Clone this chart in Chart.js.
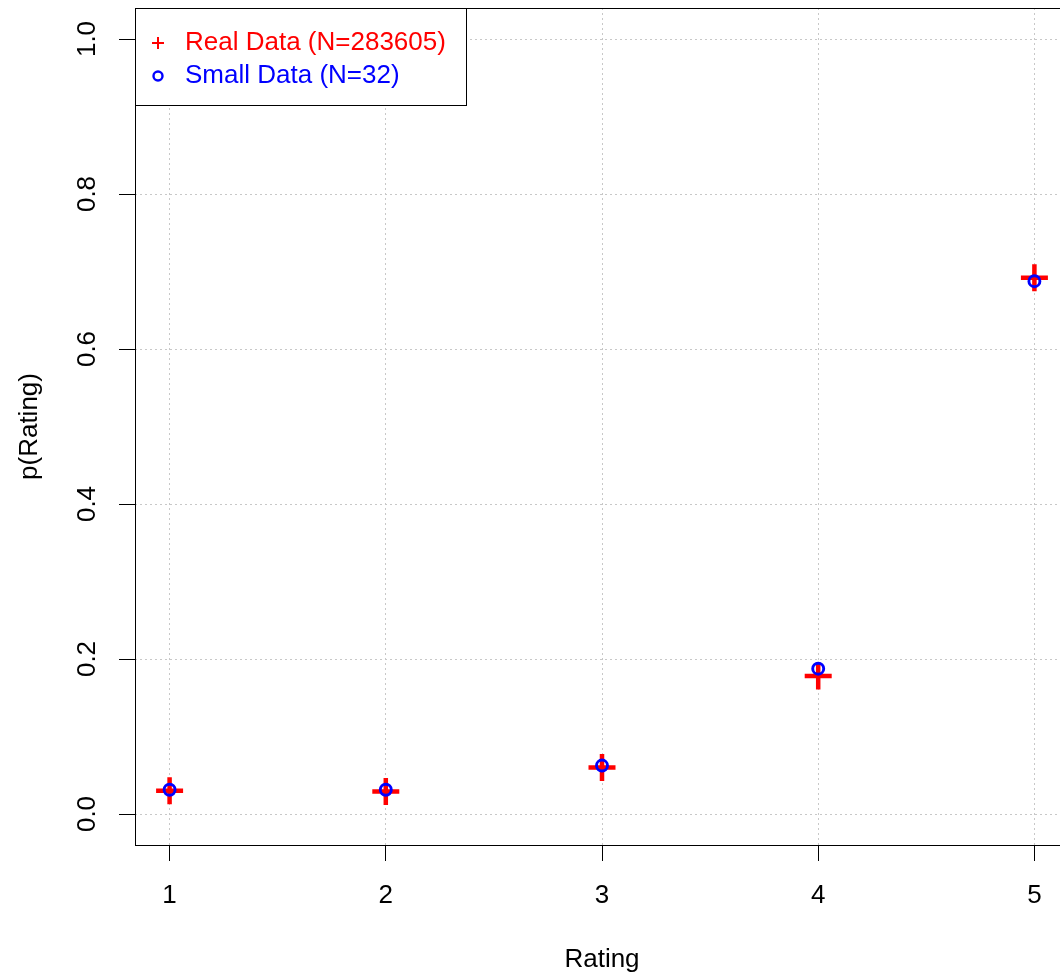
<!DOCTYPE html>
<html>
<head>
<meta charset="utf-8">
<title>p(Rating)</title>
<script src="https://cdn.jsdelivr.net/npm/chart.js@4"></script>
<style>
  html, body { margin: 0; padding: 0; background: #fff; overflow: hidden; }
  #wrap { width: 1069px; height: 975px; }
</style>
</head>
<body>
<div id="wrap"><canvas id="ratingChart" width="1069" height="975"></canvas></div>
<script>
// rating categories and the two estimated distributions
const ratings = [1, 2, 3, 4, 5];
const realP = [0.030, 0.029, 0.060, 0.178, 0.692];
const smallP = [0.03125, 0.03125, 0.0625, 0.1875, 0.6875];

const realLabel = 'Real Data (N=283605)';
const smallLabel = 'Small Data (N=32)';

const xTicks = [1, 2, 3, 4, 5];
const xTickLabels = ['1', '2', '3', '4', '5'];
const yTicks = [0, 0.2, 0.4, 0.6, 0.8, 1.0];
const yTickLabels = ['0.0', '0.2', '0.4', '0.6', '0.8', '1.0'];

const FONT = 'Liberation Sans, Arial, sans-serif';
const RED = '#FF0000';
const BLUE = '#0000FF';

function toPoints(xs, ys) {
    return xs.map((x, i) => ({ x: x, y: ys[i] }));
}

// box around the plotting region
const frame = {
    id: 'frame',
    beforeDatasetsDraw(chart) {
        const { ctx, chartArea } = chart;
        ctx.save();
        ctx.strokeStyle = '#000';
        ctx.lineWidth = 1;
        ctx.strokeRect(chartArea.left + 0.5, chartArea.top + 0.5,
            chartArea.right - chartArea.left - 1, chartArea.bottom - chartArea.top);
        ctx.restore();
    }
};

// legend box in the top-left corner
const cornerLegend = {
    id: 'cornerLegend',
    afterDraw(chart) {
        const { ctx, chartArea } = chart;
        const x0 = chartArea.left;
        const y0 = chartArea.top;
        ctx.save();
        ctx.fillStyle = '#fff';
        ctx.fillRect(x0, y0, 331, 97);
        ctx.strokeStyle = '#000';
        ctx.lineWidth = 1;
        ctx.strokeRect(x0 + 0.5, y0 + 0.5, 331, 97);

        const rows = [
            { label: realLabel, color: RED, y: y0 + 35, sym: 'cross' },
            { label: smallLabel, color: BLUE, y: y0 + 68, sym: 'circle' }
        ];
        rows.forEach((r) => {
            const sx = x0 + 23;
            ctx.strokeStyle = r.color;
            if (r.sym === 'cross') {
                ctx.lineWidth = 2;
                ctx.beginPath();
                ctx.moveTo(sx - 6, r.y);
                ctx.lineTo(sx + 6, r.y);
                ctx.moveTo(sx, r.y - 6);
                ctx.lineTo(sx, r.y + 6);
                ctx.stroke();
            } else {
                ctx.lineWidth = 2.4;
                ctx.beginPath();
                ctx.arc(sx, r.y, 4.5, 0, Math.PI * 2);
                ctx.stroke();
            }
            ctx.fillStyle = r.color;
            ctx.font = '26px ' + FONT;
            ctx.textAlign = 'left';
            ctx.textBaseline = 'middle';
            ctx.fillText(r.label, x0 + 50, r.y);
        });
        ctx.restore();
    }
};

const gridStyle = {
    color: '#C8C8C8',
    lineWidth: 1,
    drawTicks: true,
    tickLength: 16,
    tickColor: '#000',
    tickWidth: 1,
    tickBorderDash: []
};

// in v4 the grid-line dash pattern lives under border.dash
const borderStyle = { display: false, dash: [2, 3] };

const ctx = document.getElementById('ratingChart').getContext('2d');
const chart = new Chart(ctx, {
    type: 'scatter',
    data: {
        datasets: [
            {
                label: realLabel,
                data: toPoints(ratings, realP),
                pointStyle: 'cross',
                pointRadius: 13.5,
                pointBorderWidth: 4.5,
                borderColor: RED,
                backgroundColor: RED,
                order: 2
            },
            {
                label: smallLabel,
                data: toPoints(ratings, smallP),
                pointStyle: 'circle',
                pointRadius: 5.5,
                pointBorderWidth: 2.9,
                borderColor: BLUE,
                backgroundColor: 'rgba(0,0,0,0)',
                order: 1
            }
        ]
    },
    options: {
        responsive: false,
        animation: false,
        devicePixelRatio: 1,
        layout: { autoPadding: false, padding: { top: 8, left: 0, right: 0, bottom: 0 } },
        plugins: {
            legend: { display: false },
            tooltip: { enabled: false }
        },
        scales: {
            x: {
                type: 'linear',
                min: 0.84,
                max: 5.16,
                afterBuildTicks: (s) => { s.ticks = xTicks.map((v) => ({ value: v })); },
                afterFit: (s) => { s.height = 130; s.paddingLeft = 0; s.paddingRight = 0; },
                grid: gridStyle,
                border: borderStyle,
                ticks: {
                    color: '#000',
                    font: { family: FONT, size: 26 },
                    padding: 19,
                    minRotation: 0,
                    maxRotation: 0,
                    callback: (v, i) => xTickLabels[i]
                },
                title: {
                    display: true,
                    text: 'Rating',
                    color: '#000',
                    font: { family: FONT, size: 26 },
                    padding: { top: 0, bottom: 0 }
                }
            },
            y: {
                type: 'linear',
                min: -0.04,
                max: 1.04,
                afterBuildTicks: (s) => { s.ticks = yTicks.map((v) => ({ value: v })); },
                afterFit: (s) => { s.width = 135; s.paddingTop = 0; s.paddingBottom = 0; },
                grid: gridStyle,
                border: borderStyle,
                ticks: {
                    color: '#000',
                    font: { family: FONT, size: 26 },
                    padding: 13,
                    minRotation: 90,
                    maxRotation: 90,
                    crossAlign: 'center',
                    callback: (v, i) => yTickLabels[i]
                },
                title: {
                    display: true,
                    text: 'p(Rating)',
                    color: '#000',
                    font: { family: FONT, size: 26 },
                    padding: { top: 14, bottom: 0 }
                }
            }
        }
    },
    plugins: [frame, cornerLegend]
});
</script>
</body>
</html>
